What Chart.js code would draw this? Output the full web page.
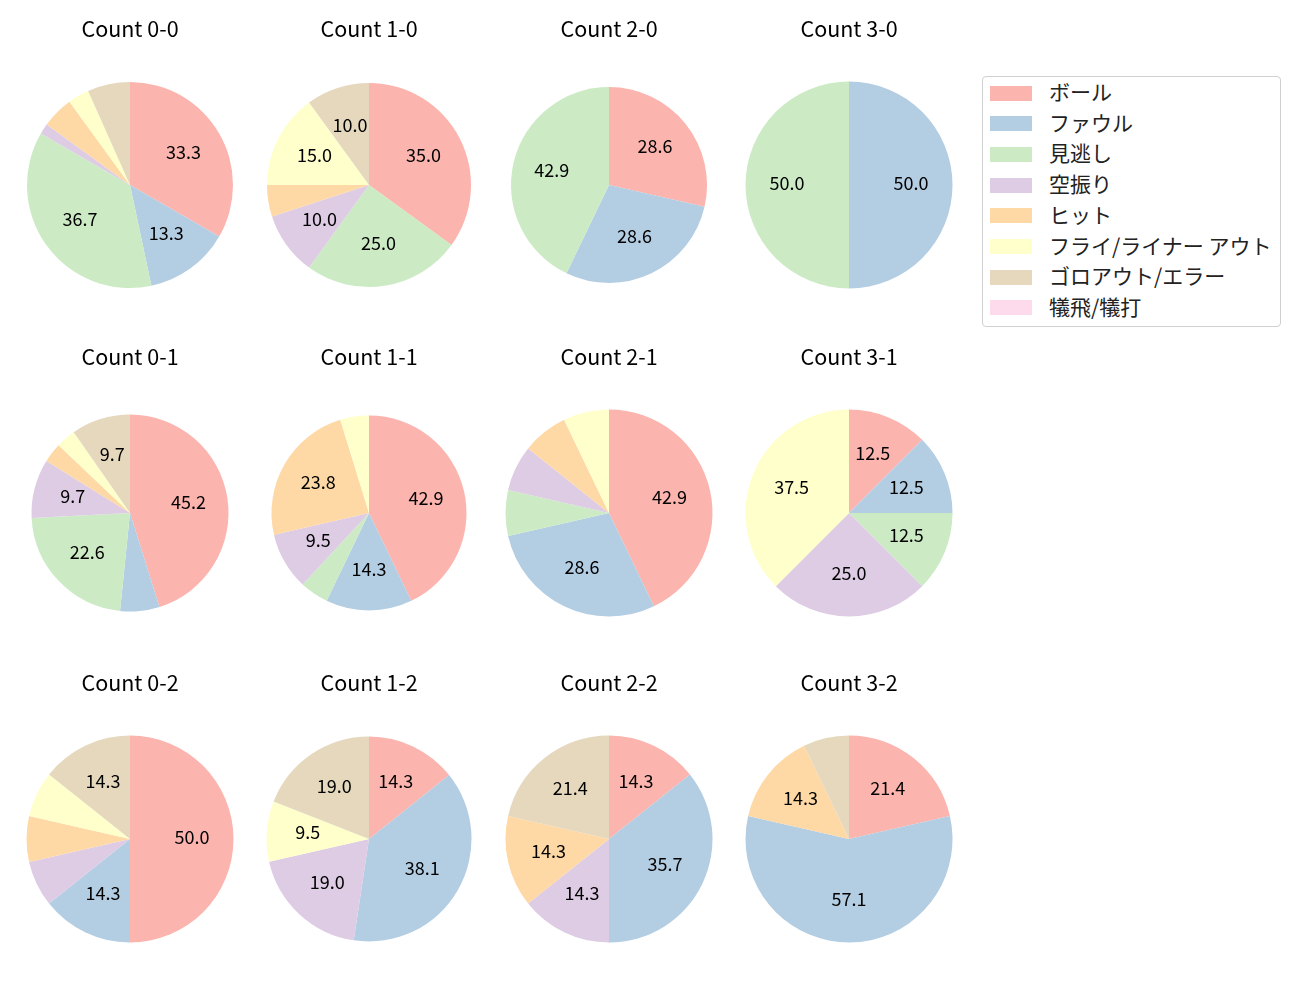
<!DOCTYPE html>
<html>
<head>
<meta charset="utf-8">
<script src="https://cdn.jsdelivr.net/npm/chart.js@4.4.0/dist/chart.umd.min.js"></script>
<style>
  body { margin: 0; background: #fff; font-family: "Noto Sans CJK JP", sans-serif; }
  #wrap { position: relative; width: 1300px; height: 1000px; }
  .pie { position: absolute; }
  #legend {
    position: absolute; left: 982px; top: 76px; width: 297px; height: 249px;
    border: 1px solid #d0d0d0; border-radius: 4px; box-sizing: content-box;
  }
  .item { position: absolute; left: 7px; height: 20px; display: flex; align-items: center; font-size: 21px; color: #222; white-space: nowrap; }
  .swatch { width: 42px; height: 15px; margin-right: 17px; flex: none; position: relative; top: 2px; }
</style>
</head>
<body>
<div id="wrap">
  <div id="legend"></div>
</div>
<script>
// Result categories (legend order)
let categories = ["ボール", "ファウル", "見逃し", "空振り", "ヒット", "フライ/ライナー アウト", "ゴロアウト/エラー", "犠飛/犠打"];
let colors = ["#fbb4ae", "#b3cde3", "#ccebc5", "#decbe4", "#fed9a6", "#ffffcc", "#e5d8bd", "#fddaec"];

// Pitch counts per ball-strike count, in category order
let count00 = [20, 8, 22, 1, 3, 2, 4, 0];
let count10 = [7, 0, 5, 2, 1, 3, 2, 0];
let count20 = [2, 2, 3, 0, 0, 0, 0, 0];
let count30 = [0, 1, 1, 0, 0, 0, 0, 0];
let count01 = [14, 2, 7, 3, 1, 1, 3, 0];
let count11 = [9, 3, 1, 2, 5, 1, 0, 0];
let count21 = [6, 4, 1, 1, 1, 1, 0, 0];
let count31 = [1, 1, 1, 2, 0, 3, 0, 0];
let count02 = [7, 2, 0, 1, 1, 1, 2, 0];
let count12 = [3, 8, 0, 4, 0, 2, 4, 0];
let count22 = [2, 5, 0, 2, 2, 0, 3, 0];
let count32 = [3, 8, 0, 0, 2, 0, 1, 0];

let pieTitles = ["Count 0-0", "Count 1-0", "Count 2-0", "Count 3-0",
                 "Count 0-1", "Count 1-1", "Count 2-1", "Count 3-1",
                 "Count 0-2", "Count 1-2", "Count 2-2", "Count 3-2"];
let pieData = [count00, count10, count20, count30,
               count01, count11, count21, count31,
               count02, count12, count22, count32];

// layout of the grid (pixels)
let colX = [130, 369, 609, 849];
let rowY = [184.5, 512.5, 838.5];
let radii = [103, 102, 98, 103.5, 98.5, 97.5, 103.5, 103.5, 103.5, 102.5, 103.5, 103.5];

// draws the percentage inside each slice, like autopct
const pctLabels = {
  id: 'pctLabels',
  afterDatasetsDraw(chart) {
    let ctx = chart.ctx;
    let meta = chart.getDatasetMeta(0);
    let values = chart.data.datasets[0].data;
    let total = values.reduce((a, b) => a + b, 0);
    ctx.save();
    ctx.fillStyle = '#000';
    ctx.font = '18px "Noto Sans CJK JP"';
    ctx.textAlign = 'center';
    ctx.textBaseline = 'middle';
    meta.data.forEach((arc, i) => {
      let pct = values[i] / total * 100;
      if (pct < 8) return;
      let mid = (arc.startAngle + arc.endAngle) / 2;
      let r = arc.outerRadius * 0.6;
      ctx.fillText(pct.toFixed(1), arc.x + Math.cos(mid) * r, arc.y + Math.sin(mid) * r - 2);
    });
    ctx.restore();
  }
};

let wrap = document.getElementById('wrap');
let W = 240, H = 338;
let titleSize = 21.5, titlePad = 8;
let titleBlock = titleSize * 1.2 + titlePad;

pieData.forEach((values, k) => {
  let cx = colX[k % 4], cy = rowY[Math.floor(k / 4)];
  let canvas = document.createElement('canvas');
  canvas.className = 'pie';
  canvas.width = W;
  canvas.height = H;
  canvas.style.left = (cx - W / 2) + 'px';
  canvas.style.top = (cy - H / 2) + 'px';
  canvas.style.width = W + 'px';
  canvas.style.height = H + 'px';
  wrap.appendChild(canvas);

  new Chart(canvas.getContext('2d'), {
    type: 'pie',
    data: {
      labels: categories,
      datasets: [{
        data: values,
        backgroundColor: colors,
        borderWidth: 0
      }]
    },
    options: {
      responsive: false,
      animation: false,
      radius: radii[k],
      layout: { padding: { top: 0, bottom: titleBlock } },
      plugins: {
        legend: { display: false },
        tooltip: { enabled: false },
        title: {
          display: true,
          text: pieTitles[k],
          color: '#000',
          font: { family: 'Noto Sans CJK JP', size: titleSize, weight: 'normal', lineHeight: 1.2 },
          padding: { top: 0, bottom: titlePad }
        }
      }
    },
    plugins: [pctLabels]
  });
});

// legend
let legend = document.getElementById('legend');
categories.forEach((name, i) => {
  let row = document.createElement('div');
  row.className = 'item';
  row.style.top = (4 + i * 30.7) + 'px';
  let sw = document.createElement('span');
  sw.className = 'swatch';
  sw.style.background = colors[i];
  let txt = document.createElement('span');
  txt.textContent = name;
  row.appendChild(sw);
  row.appendChild(txt);
  legend.appendChild(row);
});
</script>
</body>
</html>
